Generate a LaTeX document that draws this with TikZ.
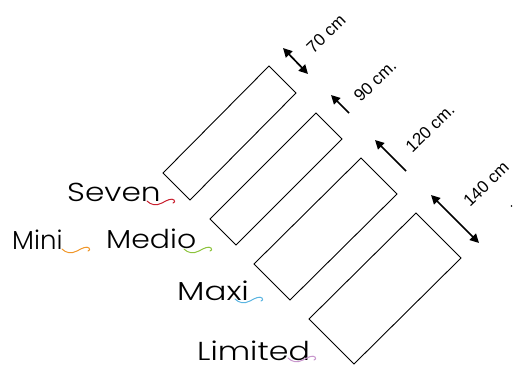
\documentclass[tikz,border=0pt]{standalone}
\usepackage{fontspec}
\newfontfamily\gothic{Poppins}[UprightFont={* Light}]
\newfontfamily\arialf{Liberation Sans}
\usetikzlibrary{arrows.meta}
\definecolor{swred}{RGB}{200,30,45}
\definecolor{sworange}{RGB}{240,150,40}
\definecolor{swgreen}{RGB}{140,195,60}
\definecolor{swblue}{RGB}{90,180,225}
\definecolor{swpurple}{RGB}{200,150,205}
\begin{document}
\begin{tikzpicture}[x=1pt,y=-1pt,
  bed/.style={draw=black,line width=0.9pt,line join=miter},
  dimarrow/.style={line width=1.7pt,-{Triangle[length=9pt,width=9pt]}},
  dimarrows/.style={line width=1.7pt,{Triangle[length=9pt,width=9pt]}-{Triangle[length=9pt,width=9pt]}},
  dimlabel/.style={font=\arialf\fontsize{17}{19}\selectfont,rotate=44,inner sep=0pt},
  model/.style={font=\gothic\fontsize{26}{30}\selectfont,anchor=base west,inner sep=0pt},
  swirl/.pic={\draw[line width=1pt,line cap=round,pic actions]
     (0,0) .. controls (4,4) and (9,5) .. (15,2)
           .. controls (20,-1) and (25,-3) .. (27,-1)
           .. controls (28,0) and (28,2) .. (26,2);}]
\useasboundingbox (0,0) rectangle (513,364);
% beds
\coordinate (a1) at (269,66); \coordinate (b1) at (296,93);
\coordinate (c1) at (190,200); \coordinate (d1) at (163,173);
\coordinate (a2) at (316,113); \coordinate (b2) at (342,139);
\coordinate (c2) at (236,245); \coordinate (d2) at (210,219);
\coordinate (a3) at (361,158); \coordinate (b3) at (397,194);
\coordinate (c3) at (290,300); \coordinate (d3) at (254,264);
\coordinate (a4) at (416,213); \coordinate (b4) at (461,258);
\coordinate (c4) at (354,364); \coordinate (d4) at (309,319);
\draw[bed] (a1)--(b1)--(c1)--(d1)--cycle;
\draw[bed] (a2)--(b2)--(c2)--(d2)--cycle;
\draw[bed] (a3)--(b3)--(c3)--(d3)--cycle;
\draw[bed] (a4)--(b4)--(c4)--(d4)--cycle;
% dimension arrows
\coordinate (p1) at (283,48); \coordinate (q1) at (308,74);
\coordinate (p2) at (331,95); \coordinate (q2) at (349,113);
\coordinate (p3) at (375,140); \coordinate (q3) at (406,171);
\coordinate (p4) at (431,195); \coordinate (q4) at (479,243);
\draw[dimarrows] (p1) -- (q1);
\draw[dimarrow] (q2) -- (p2);
\draw[dimarrow] (q3) -- (p3);
\draw[dimarrows] (p4) -- (q4);
\node[dimlabel] (l70) at (326,34) {70 cm};
\node[dimlabel] (l90) at (375,81) {90 cm.};
\node[dimlabel] (l120) at (430,128) {120 cm.};
\node[dimlabel] (l140) at (486,184) {140 cm};
\fill (511.5,206) circle (0.8);
% model names
\node[model] (seven) at (67,201) {\scalebox{1.2}[1]{Seven}};
\node[model] (mini) at (12,249) {\scalebox{1.0}[1]{Mini}};
\node[model] (medio) at (106,248) {\scalebox{1.15}[1]{Medio}};
\node[model] (maxi) at (177,300) {\scalebox{1.25}[1]{Maxi}};
\node[model] (limited) at (197,360) {\scalebox{1.22}[1]{Limited}};
\pic[swred] at (147,201) {swirl};
\pic[sworange] at (62,249) {swirl};
\pic[swgreen] at (184,249) {swirl};
\pic[swblue] at (235,299) {swirl};
\pic[swpurple] at (288,358) {swirl};
\end{tikzpicture}
\end{document}
